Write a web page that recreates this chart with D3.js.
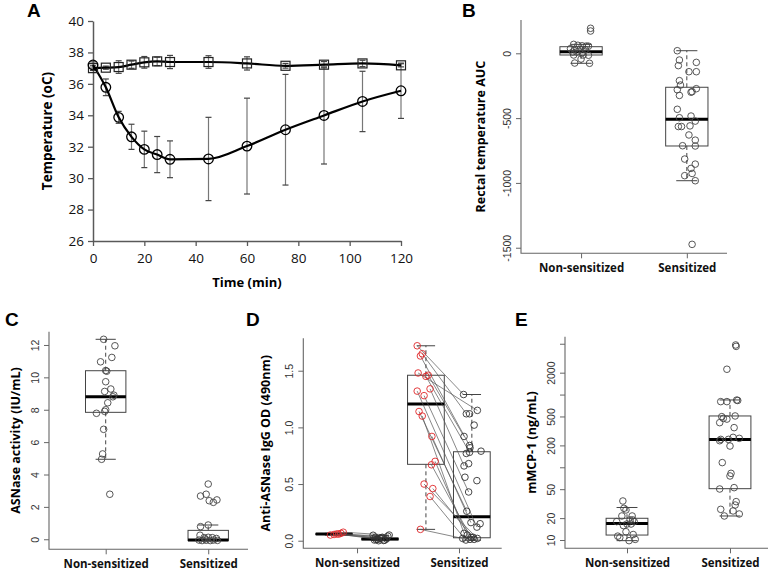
<!DOCTYPE html>
<html>
<head>
<meta charset="utf-8">
<script src="https://cdn.jsdelivr.net/npm/d3@7"></script>
<style>
  body { margin: 0; background: #fff; }
  svg { display: block; }
</style>
</head>
<body>
<div id="app"></div>
<script>
// ---- Panel A: rectal temperature over time ----
const timeMin = [0, 5, 10, 15, 20, 25, 30, 45, 60, 75, 90, 105, 120];
const tempNonSens = [37.0, 37.03, 37.07, 37.22, 37.37, 37.43, 37.39, 37.39, 37.3, 37.15, 37.22, 37.3, 37.18];
const sdNonSens = [0.15, 0.1, 0.4, 0.23, 0.37, 0.27, 0.42, 0.4, 0.42, 0.15, 0.2, 0.2, 0.1];
const tempSens = [37.2, 35.78, 33.87, 32.63, 31.83, 31.5, 31.2, 31.22, 32.04, 33.08, 33.99, 34.88, 35.56];
const sdSens = [0.2, 0.53, 0.38, 0.8, 1.16, 1.15, 1.17, 2.65, 3.05, 3.52, 3.09, 1.92, 1.76];
const timeTicks = [0, 20, 40, 60, 80, 100, 120];
const tempTicks = [26, 28, 30, 32, 34, 36, 38, 40];

const groups = ["Non-sensitized", "Sensitized"];

// ---- Panel B: rectal temperature AUC ----
const aucNonSens = [193, 172, 69, 62, 58, 56, 55, 36, 32, 30, 28, 10, 10, 5, -13, -13, -15, -44, -75, -77];
const aucNonSensJit = [0.09, 0.09, -0.07, -0.03, 0.01, 0.05, 0.07, -0.1, -0.06, -0.01, 0.04, -0.08, -0.04, 0.01, -0.07, 0.02, 0.07, 0, -0.06, 0.08];
const aucSens = [20, -52, -95, -70, -142, -142, -211, -245, -281, -273, -296, -300, -325, -432, -497, -484, -523, -565, -565, -560, -630, -713, -670, -715, -816, -855, -888, -927, -944, -983, -1474];
const aucSensJit = [-0.09, -0.07, -0.08, 0.09, 0.02, 0.09, -0.07, -0.06, -0.09, 0.09, 0.05, 0.04, -0.07, -0.09, -0.07, 0.04, 0.08, -0.08, -0.05, 0.03, 0.02, -0.04, 0.08, 0.08, -0.02, 0.08, 0.04, 0.05, -0.02, 0.08, 0.05];
// [lower whisker, q1, median, q3, upper whisker]
const aucBoxNonSens = [-77, -13, 12, 51, 69];
const aucBoxSens = [-983, -715, -509, -262, 20];
const aucTicks = [0, -500, -1000, -1500];

// ---- Panel C: ASNase activity ----
const actNonSens = [12.35, 11.95, 11.23, 10.96, 10.42, 10.38, 9.73, 9.28, 9.13, 8.8, 8.9, 8.43, 8.0, 7.9, 7.78, 6.79, 5.27, 4.94, 2.78];
const actNonSensJit = [-0.02, 0.09, 0.06, -0.05, 0, 0.01, 0, 0.05, -0.01, 0.07, 0.08, 0.02, 0, -0.01, -0.09, -0.02, -0.03, -0.04, 0.04];
const actSens = [3.41, 2.67, 2.78, 2.38, 2.28, 2.43, 0.78, 0.88, 0.25, 0.1, 0.12, 0.1, 0.05, -0.05, -0.08, -0.06, -0.08, -0.05, -0.07, 0.02];
const actSensJit = [0, -0.075, -0.02, 0.01, 0.05, 0.085, -0.075, 0, -0.08, -0.04, 0, 0.04, 0.08, -0.09, -0.06, -0.02, 0.02, 0.05, 0.09, -0.03];
const actBoxNonSens = [4.94, 7.84, 8.8, 10.41, 12.35];
const actBoxSens = [-0.08, -0.08, -0.04, 0.55, 0.88];
const actTicks = [0, 2, 4, 6, 8, 10, 12];

// ---- Panel D: anti-ASNase IgG, before (red) and after (black) ----
const igNsPre = [0.05, 0.055, 0.06, 0.058, 0.065, 0.075];
const igNsPreJit = [-0.08, 0.0, 0.06, 0.1, 0.15, 0.2];
const igNsPost = [0.048, 0.03, 0.012, 0.02, 0.03, 0.005, 0.05, 0.006, 0.0, 0.025, 0.002, 0.015, 0.01, 0.04];
const igNsPostJit = [-0.15, -0.1, -0.05, 0.0, 0.05, 0.1, 0.2, -0.12, -0.03, 0.02, 0.08, 0.14, -0.08, 0.17];
const igNsPairs = [0, 1, 2, 3, 4, 6];
const igSPre = [1.72, 1.63, 1.65, 1.48, 1.45, 1.46, 1.32, 1.34, 1.28, 1.14, 1.10, 0.92, 0.67, 0.70, 0.50, 0.46, 0.39, 0.10];
const igSPreJit = [-0.19, -0.12, -0.08, -0.17, 0, 0.05, -0.19, 0.09, -0.04, -0.15, -0.08, 0.13, 0.12, 0.2, -0.04, 0.15, 0.09, -0.12];
const igSPost = [1.29, 1.12, 1.12, 1.15, 1.02, 0.92, 0.84, 0.82, 0.77, 0.78, 0.79, 0.66, 0.68, 0.56, 0.53, 0.43, 0.26, 0.16, 0.15, 0.12, 0.065, 0.05, 0.03, 0.012, 0.02, 0.006, 0.012, 0.03, 0.02];
const igSPostJit = [-0.18, -0.12, -0.05, 0.12, 0.05, -0.17, -0.05, -0.04, -0.12, -0.05, 0.2, -0.17, -0.07, -0.15, 0.11, -0.07, -0.11, -0.02, 0.18, 0.11, -0.17, -0.1, -0.02, 0.05, 0.12, -0.13, -0.04, 0.03, -0.2];
// index into igSPost for each igSPre subject
const igSPairs = [0, 6, 1, 3, 9, 5, 19, 11, 15, 16, 20, 17, 22, 21, 24, 23, 25, 28];
const igBoxNsPre = [0.05, 0.055, 0.06, 0.062, 0.065];
const igBoxNsPost = [0.002, 0.008, 0.014, 0.022, 0.045];
const igBoxSPre = [0.10, 0.674, 1.206, 1.46, 1.72];
const igBoxSPost = [0.005, 0.026, 0.212, 0.785, 1.29];
const igTicks = [0, 0.5, 1.0, 1.5];

// ---- Panel E: mMCP-1 (log scale) ----
const mcpNonSens = [34.4, 27.3, 25.9, 21.4, 21.4, 17.9, 18.9, 18.9, 17.9, 15.8, 16.6, 16.6, 13.0, 11.3, 10.8, 11.9, 9.8, 10.2];
const mcpNonSensJit = [-0.04, -0.03, -0.01, -0.05, 0.05, -0.1, 0.03, 0.055, 0.07, -0.035, 0, 0.04, -0.01, -0.09, -0.07, 0.06, 0.02, 0.08];
const mcpSens = [4810, 4600, 2230, 800, 800, 840, 830, 497, 470, 460, 508, 411, 351, 242, 232, 242, 258, 250, 196, 116, 82.6, 76, 50.3, 52.5, 33.7, 30.3, 26.4, 25.1, 22.8, 21.4];
const mcpSensJit = [0.055, 0.06, -0.03, -0.09, -0.03, 0.065, 0.075, -0.08, -0.065, -0.03, 0.05, -0.1, 0.04, -0.09, -0.1, -0.015, 0.03, 0.09, 0, -0.075, 0.01, 0, -0.1, 0.04, 0.06, 0.05, -0.09, 0.03, 0.09, -0.055];
const mcpBoxNonSens = [9.8, 11.7, 16.9, 19.9, 28];
const mcpBoxSens = [21.4, 50.8, 242, 508, 843];
const mcpTicks = [10, 20, 50, 100, 200, 500, 1000, 2000, 5000];
const mcpTickLabels = [10, 20, 50, 200, 500, 2000];

const FONT_R = "'Liberation Sans', Arial, sans-serif";
const FONT_T = "'Open Sans', Lato, sans-serif";

const svg = d3.select("#app")
    .append("svg")
    .attr("width", 770)
    .attr("height", 571)
    .style("background-color", "white");

function panelLetter(txt, x, y) {
    svg.append("text")
        .attr("x", x).attr("y", y)
        .attr("font-family", FONT_R)
        .attr("font-weight", "bold")
        .attr("font-size", 19)
        .text(txt);
}

// ================= Panel A =================
const ax = d3.scaleLinear().domain([0, 120]).range([93, 401]);
const ay = d3.scaleLinear().domain([26, 40]).range([241, 21]);
const gA = svg.append("g");

const xAxisA = gA.append("g")
    .attr("transform", "translate(0,241)")
    .call(d3.axisBottom(ax).tickValues(timeTicks).tickSize(5).tickSizeOuter(0).tickPadding(7));
const yAxisA = gA.append("g")
    .attr("transform", "translate(93,0)")
    .call(d3.axisLeft(ay).tickValues(tempTicks).tickSize(5).tickSizeOuter(0).tickPadding(4));
[xAxisA, yAxisA].forEach(a => {
    a.select(".domain").attr("stroke", "#595959").attr("stroke-width", 1.5);
    a.selectAll(".tick line").attr("stroke", "#595959").attr("stroke-width", 1.3);
    a.selectAll(".tick text").attr("font-family", FONT_T).attr("font-size", 13.5).attr("fill", "#111");
});

gA.append("text")
    .attr("x", 247).attr("y", 287)
    .attr("text-anchor", "middle")
    .attr("font-family", FONT_T).attr("font-weight", "bold").attr("font-size", 13)
    .text("Time (min)");
gA.append("text")
    .attr("transform", "translate(52,131) rotate(-90)")
    .attr("text-anchor", "middle")
    .attr("font-family", FONT_T).attr("font-weight", "bold").attr("font-size", 13.5)
    .text("Temperature (oC)");

function errorBars(vals, sds) {
    const eb = gA.append("g").attr("stroke", "#777").attr("stroke-width", 1.2);
    timeMin.forEach((t, i) => {
        const x = ax(t);
        const yt = ay(vals[i] + sds[i]), yb = ay(vals[i] - sds[i]);
        eb.append("line").attr("x1", x).attr("x2", x).attr("y1", yt).attr("y2", yb);
        eb.append("line").attr("x1", x - 3).attr("x2", x + 3).attr("y1", yt).attr("y2", yt).attr("stroke", "#444");
        eb.append("line").attr("x1", x - 3).attr("x2", x + 3).attr("y1", yb).attr("y2", yb).attr("stroke", "#444");
    });
}
errorBars(tempSens, sdSens);
errorBars(tempNonSens, sdNonSens);

const lineA = d3.line().curve(d3.curveMonotoneX);
[tempNonSens, tempSens].forEach(vals => {
    gA.append("path")
        .attr("d", lineA(timeMin.map((t, i) => [ax(t), ay(vals[i])])))
        .attr("fill", "none").attr("stroke", "#000").attr("stroke-width", 2.2);
});
gA.selectAll(".sq").data(timeMin).enter().append("rect")
    .attr("x", (t) => ax(t) - 4.5)
    .attr("y", (t, i) => ay(tempNonSens[i]) - 4.5)
    .attr("width", 9).attr("height", 9)
    .attr("fill", "none").attr("stroke", "#222").attr("stroke-width", 1.2);
gA.selectAll(".ci").data(timeMin).enter().append("circle")
    .attr("cx", (t) => ax(t))
    .attr("cy", (t, i) => ay(tempSens[i]))
    .attr("r", 4.8)
    .attr("fill", "none").attr("stroke", "#000").attr("stroke-width", 1.3);

// ================= R style panels =================
function rPanel(cfg) {
    const g = svg.append("g");
    const x = d3.scaleLinear().domain(cfg.xDomain).range([cfg.left, cfg.right]);
    const y = cfg.y;
    // L shaped frame
    g.append("path")
        .attr("d", `M${cfg.left},${cfg.top}V${cfg.bottom}H${cfg.right}`)
        .attr("fill", "none").attr("stroke", "#666").attr("stroke-width", 1.1);
    const ya = g.append("g")
        .attr("transform", `translate(${cfg.left},0)`)
        .call(d3.axisLeft(y).tickValues(cfg.yTicks).tickSize(5).tickSizeOuter(0)
            .tickFormat(cfg.yFormat || (d => d)));
    ya.select(".domain").remove();
    ya.selectAll(".tick line").attr("stroke", "#666");
    ya.selectAll(".tick text")
        .attr("transform", "rotate(-90)")
        .attr("x", 0).attr("y", -10).attr("dy", 0)
        .attr("text-anchor", "middle")
        .attr("font-family", FONT_R).attr("font-size", 10.5).attr("fill", "#333");
    const xa = g.append("g")
        .attr("transform", `translate(0,${cfg.bottom})`)
        .call(d3.axisBottom(x).tickValues(cfg.xTicks).tickSize(5).tickSizeOuter(0)
            .tickFormat((d, i) => groups[i]).tickPadding(6));
    xa.select(".domain").remove();
    xa.selectAll(".tick line").attr("stroke", "#666");
    xa.selectAll(".tick text")
        .attr("font-family", FONT_T).attr("font-weight", "bold")
        .attr("font-size", 11.5).attr("fill", "#111");
    g.append("text")
        .attr("transform", `translate(${cfg.titleX},${(cfg.top + cfg.bottom) / 2}) rotate(-90)`)
        .attr("text-anchor", "middle")
        .attr("font-family", FONT_T).attr("font-weight", "bold").attr("font-size", 12.5)
        .text(cfg.title);
    return { g, x, y };
}

function drawBox(p, pos, st, hw) {
    const { g, x, y } = p;
    const x0 = x(pos - hw), x1 = x(pos + hw), xc = x(pos);
    const c0 = x(pos - hw / 2), c1 = x(pos + hw / 2);
    const b = g.append("g").attr("stroke", "#444").attr("fill", "none").attr("stroke-width", 1);
    b.append("line").attr("x1", xc).attr("x2", xc).attr("y1", y(st[3])).attr("y2", y(st[4])).attr("stroke-dasharray", "4,3");
    b.append("line").attr("x1", xc).attr("x2", xc).attr("y1", y(st[1])).attr("y2", y(st[0])).attr("stroke-dasharray", "4,3");
    b.append("line").attr("x1", c0).attr("x2", c1).attr("y1", y(st[4])).attr("y2", y(st[4]));
    b.append("line").attr("x1", c0).attr("x2", c1).attr("y1", y(st[0])).attr("y2", y(st[0]));
    b.append("rect").attr("x", x0).attr("width", x1 - x0)
        .attr("y", y(st[3])).attr("height", Math.max(0.5, y(st[1]) - y(st[3])));
    b.append("line").attr("x1", x0).attr("x2", x1).attr("y1", y(st[2])).attr("y2", y(st[2]))
        .attr("stroke", "#000").attr("stroke-width", 3);
}

function drawPoints(p, pos, vals, jit, color) {
    const { g, x, y } = p;
    g.append("g").selectAll("circle").data(vals).enter().append("circle")
        .attr("cx", (d, i) => x(pos + jit[i]))
        .attr("cy", d => y(d))
        .attr("r", 3.3)
        .attr("fill", "none").attr("stroke", color).attr("stroke-width", 0.9);
}

// ---- B ----
const pB = rPanel({
    left: 521, right: 727, top: 20, bottom: 253.3,
    xDomain: [0.432, 2.38], xTicks: [1, 2],
    y: d3.scaleLinear().domain([-1543, 257]).range([253.3, 20]),
    yTicks: aucTicks, title: "Rectal temperature AUC", titleX: 485
});
drawBox(pB, 1, aucBoxNonSens, 0.2);
drawBox(pB, 2, aucBoxSens, 0.2);
drawPoints(pB, 1, aucNonSens, aucNonSensJit, "#444");
drawPoints(pB, 2, aucSens, aucSensJit, "#444");

// ---- C ----
const pC = rPanel({
    left: 49, right: 248, top: 331.7, bottom: 549.3,
    xDomain: [0.447, 2.388], xTicks: [1, 2],
    y: d3.scaleLinear().domain([-0.62, 12.82]).range([549.3, 331.7]),
    yTicks: actTicks, title: "ASNase activity (IU/mL)", titleX: 20
});
drawBox(pC, 1, actBoxNonSens, 0.197);
drawBox(pC, 2, actBoxSens, 0.197);
drawPoints(pC, 1, actNonSens, actNonSensJit, "#444");
drawPoints(pC, 2, actSens, actSensJit, "#444");

// ---- D ----
const pD = rPanel({
    left: 303.3, right: 501.7, top: 338.3, bottom: 548.3,
    xDomain: [0.33, 4.65], xTicks: [1.5, 3.72],
    y: d3.scaleLinear().domain([-0.067, 1.786]).range([548.3, 338.3]),
    yTicks: igTicks, yFormat: d3.format(".1f"),
    title: "Anti-ASNase IgG OD (490nm)", titleX: 270
});
drawBox(pD, 1, igBoxNsPre, 0.4);
drawBox(pD, 2, igBoxNsPost, 0.4);
drawBox(pD, 3, igBoxSPre, 0.4);
drawBox(pD, 4, igBoxSPost, 0.4);
const pairLines = pD.g.append("g").attr("stroke", "#555").attr("stroke-width", 0.7);
igNsPre.forEach((v, i) => {
    const j = igNsPairs[i];
    pairLines.append("line")
        .attr("x1", pD.x(1 + igNsPreJit[i])).attr("y1", pD.y(v))
        .attr("x2", pD.x(2 + igNsPostJit[j])).attr("y2", pD.y(igNsPost[j]));
});
igSPre.forEach((v, i) => {
    const j = igSPairs[i];
    pairLines.append("line")
        .attr("x1", pD.x(3 + igSPreJit[i])).attr("y1", pD.y(v))
        .attr("x2", pD.x(4 + igSPostJit[j])).attr("y2", pD.y(igSPost[j]));
});
drawPoints(pD, 1, igNsPre, igNsPreJit, "#e0282a");
drawPoints(pD, 2, igNsPost, igNsPostJit, "#333");
drawPoints(pD, 3, igSPre, igSPreJit, "#e0282a");
drawPoints(pD, 4, igSPost, igSPostJit, "#333");

// ---- E ----
const pE = rPanel({
    left: 565, right: 768, top: 336.7, bottom: 548.3,
    xDomain: [0.398, 2.369], xTicks: [1, 2],
    y: d3.scaleLog().domain([7.69, 6250]).range([548.3, 336.7]),
    yTicks: mcpTicks, yFormat: d => mcpTickLabels.includes(d) ? d : "",
    title: "mMCP-1 (ng/mL)", titleX: 536
});
drawBox(pE, 1, mcpBoxNonSens, 0.203);
drawBox(pE, 2, mcpBoxSens, 0.203);
drawPoints(pE, 1, mcpNonSens, mcpNonSensJit, "#444");
drawPoints(pE, 2, mcpSens, mcpSensJit, "#444");

panelLetter("A", 27, 17);
panelLetter("B", 462, 17);
panelLetter("C", 5, 326);
panelLetter("D", 246, 326);
panelLetter("E", 515, 326);
</script>
</body>
</html>
